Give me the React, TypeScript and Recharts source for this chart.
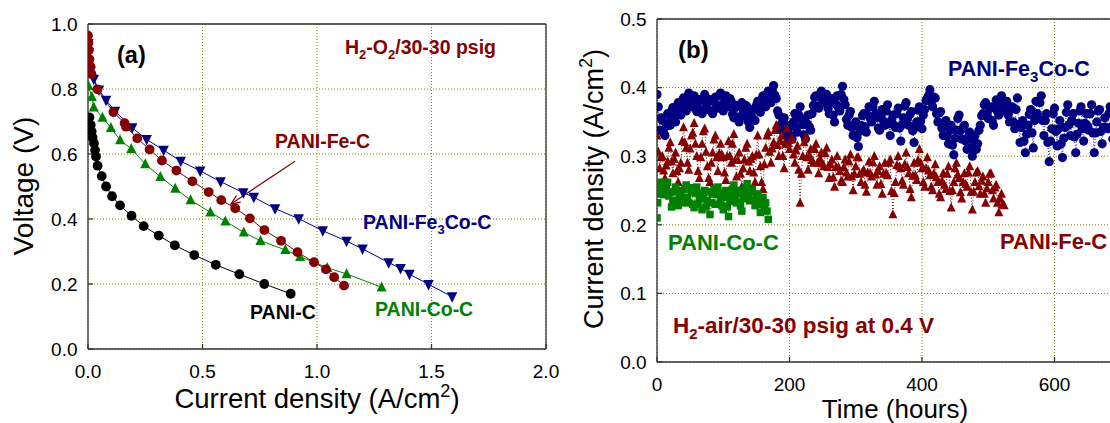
import { LineChart, Line, XAxis, YAxis, CartesianGrid, ReferenceLine } from "recharts";

const FONT = "'Liberation Sans', Arial, Helvetica, sans-serif";
const NAVY = "#000080";
const BLUE_LINE = "#0000b4";
const RED = "#850000";
const GREEN = "#008000";
const GRID = "#808000";

// (a) axes
const currentTicks = [0, 0.5, 1, 1.5, 2];
const voltageTicks = [0, 0.2, 0.4, 0.6, 0.8, 1];
// (b) axes
const hourTicks = [0, 200, 400, 600];
const densityTicks = [0, 0.1, 0.2, 0.3, 0.4, 0.5];

// (a) polarization curves: [current density A/cm2, voltage V]
const paniC = [
  [0.006, 0.713], [0.012, 0.689], [0.016, 0.669], [0.02, 0.651], [0.026, 0.633], [0.031, 0.612],
  [0.035, 0.592], [0.042, 0.564], [0.06, 0.532], [0.079, 0.5], [0.105, 0.47], [0.14, 0.442],
  [0.19, 0.41], [0.243, 0.378], [0.309, 0.349], [0.379, 0.319], [0.464, 0.289], [0.558, 0.259],
  [0.661, 0.23], [0.77, 0.2], [0.885, 0.17],
];
const paniFeC = [
  [0.0, 0.964], [0.002, 0.942], [0.004, 0.92], [0.006, 0.892], [0.01, 0.87], [0.015, 0.846],
  [0.041, 0.799], [0.111, 0.729], [0.16, 0.695], [0.166, 0.684], [0.215, 0.648], [0.269, 0.614],
  [0.323, 0.58], [0.386, 0.549], [0.456, 0.516], [0.527, 0.483], [0.582, 0.458], [0.643, 0.433],
  [0.707, 0.402], [0.77, 0.366], [0.843, 0.333], [0.915, 0.298], [0.987, 0.267], [1.039, 0.245],
  [1.075, 0.221], [1.118, 0.195],
];
const paniFe3CoC = [
  [0.001, 0.94], [0.003, 0.912], [0.006, 0.878], [0.012, 0.856], [0.025, 0.83], [0.048, 0.797],
  [0.079, 0.766], [0.118, 0.732], [0.193, 0.681], [0.256, 0.645], [0.33, 0.612], [0.405, 0.578],
  [0.49, 0.548], [0.579, 0.515], [0.678, 0.481], [0.724, 0.467], [0.817, 0.432], [0.92, 0.401],
  [1.025, 0.364], [1.129, 0.332], [1.199, 0.308], [1.313, 0.266], [1.365, 0.248], [1.404, 0.23],
  [1.487, 0.199], [1.59, 0.161],
];
const paniCoC = [
  [0.0, 0.812], [0.017, 0.776], [0.025, 0.744], [0.063, 0.712], [0.1, 0.681], [0.14, 0.643],
  [0.189, 0.616], [0.25, 0.569], [0.316, 0.53], [0.381, 0.494], [0.448, 0.458], [0.534, 0.421],
  [0.6, 0.393], [0.68, 0.359], [0.753, 0.333], [0.862, 0.305], [0.926, 0.284], [1.045, 0.25],
  [1.129, 0.231], [1.282, 0.19],
];

// (b) life test at 0.4 V: [hours, A/cm2]
const lifeFe3CoC = [
  [0, 0.39], [2, 0.372], [4, 0.338], [6, 0.356], [8, 0.352], [10, 0.334], [12, 0.33], [14, 0.344],
  [16, 0.362], [18, 0.349], [20, 0.345], [22, 0.366], [24, 0.371], [26, 0.357], [28, 0.35], [30, 0.372],
  [32, 0.378], [34, 0.364], [36, 0.36], [38, 0.379], [40, 0.385], [42, 0.37], [44, 0.366], [46, 0.386],
  [48, 0.392], [50, 0.377], [52, 0.372], [54, 0.385], [56, 0.388], [58, 0.371], [60, 0.365], [62, 0.379],
  [64, 0.383], [66, 0.367], [68, 0.362], [70, 0.383], [72, 0.39], [74, 0.374], [76, 0.368], [78, 0.383],
  [80, 0.38], [82, 0.366], [84, 0.362], [86, 0.381], [88, 0.386], [90, 0.373], [92, 0.37], [94, 0.388],
  [96, 0.392], [98, 0.375], [100, 0.366], [102, 0.384], [104, 0.388], [106, 0.374], [108, 0.372], [110, 0.384],
  [112, 0.38], [114, 0.361], [116, 0.356], [118, 0.371], [120, 0.374], [122, 0.357], [124, 0.35], [126, 0.372],
  [128, 0.378], [130, 0.363], [132, 0.358], [134, 0.374], [136, 0.372], [138, 0.35], [140, 0.342], [142, 0.362],
  [144, 0.368], [146, 0.354], [148, 0.352], [150, 0.374], [152, 0.38], [154, 0.367], [156, 0.364], [158, 0.383],
  [160, 0.388], [162, 0.376], [164, 0.372], [166, 0.39], [168, 0.395], [170, 0.381], [172, 0.378], [174, 0.397],
  [176, 0.403], [178, 0.389], [180, 0.384], [182, 0.366], [184, 0.36], [186, 0.345], [188, 0.338], [190, 0.352],
  [192, 0.356], [194, 0.33], [196, 0.318], [198, 0.337], [200, 0.345], [202, 0.329], [204, 0.325], [206, 0.35],
  [208, 0.362], [210, 0.342], [212, 0.335], [214, 0.36], [216, 0.372], [218, 0.354], [220, 0.346], [222, 0.331],
  [224, 0.325], [226, 0.348], [228, 0.36], [230, 0.343], [232, 0.338], [234, 0.362], [236, 0.374], [238, 0.386],
  [240, 0.388], [242, 0.373], [244, 0.37], [246, 0.39], [248, 0.395], [250, 0.381], [252, 0.378], [254, 0.389],
  [256, 0.39], [258, 0.37], [260, 0.362], [262, 0.379], [264, 0.384], [266, 0.36], [268, 0.35], [270, 0.376],
  [272, 0.388], [274, 0.371], [276, 0.366], [278, 0.39], [280, 0.402], [282, 0.383], [284, 0.375], [286, 0.354],
  [288, 0.345], [290, 0.36], [292, 0.365], [294, 0.342], [296, 0.33], [298, 0.346], [300, 0.35], [302, 0.327],
  [304, 0.314], [306, 0.336], [308, 0.345], [310, 0.359], [312, 0.362], [314, 0.343], [316, 0.335], [318, 0.36],
  [320, 0.372], [322, 0.355], [324, 0.35], [326, 0.372], [328, 0.38], [330, 0.362], [332, 0.356], [334, 0.341],
  [336, 0.338], [338, 0.358], [340, 0.368], [342, 0.351], [344, 0.345], [346, 0.366], [348, 0.375], [350, 0.347],
  [352, 0.33], [354, 0.352], [356, 0.36], [358, 0.345], [360, 0.342], [362, 0.362], [364, 0.37], [366, 0.341],
  [368, 0.322], [370, 0.346], [372, 0.356], [374, 0.373], [376, 0.378], [378, 0.355], [380, 0.345], [382, 0.361],
  [384, 0.365], [386, 0.337], [388, 0.32], [390, 0.342], [392, 0.35], [394, 0.367], [396, 0.372], [398, 0.351],
  [400, 0.34], [402, 0.36], [404, 0.368], [406, 0.381], [408, 0.384], [410, 0.389], [412, 0.397], [414, 0.379],
  [416, 0.372], [418, 0.386], [420, 0.385], [422, 0.362], [424, 0.35], [426, 0.363], [428, 0.365], [430, 0.341],
  [432, 0.33], [434, 0.348], [436, 0.352], [438, 0.329], [440, 0.318], [442, 0.338], [444, 0.345], [446, 0.316],
  [448, 0.302], [450, 0.326], [452, 0.338], [454, 0.355], [456, 0.36], [458, 0.337], [460, 0.325], [462, 0.341],
  [464, 0.345], [466, 0.322], [468, 0.31], [470, 0.328], [472, 0.335], [474, 0.312], [476, 0.3], [478, 0.322],
  [480, 0.33], [482, 0.31], [484, 0.318], [486, 0.338], [488, 0.345], [490, 0.359], [492, 0.362], [494, 0.375],
  [496, 0.378], [498, 0.361], [500, 0.355], [502, 0.369], [504, 0.372], [506, 0.352], [508, 0.345], [510, 0.37],
  [512, 0.382], [514, 0.365], [516, 0.36], [518, 0.38], [520, 0.388], [522, 0.371], [524, 0.366], [526, 0.377],
  [528, 0.38], [530, 0.36], [532, 0.35], [534, 0.368], [536, 0.372], [538, 0.35], [540, 0.34], [542, 0.368],
  [544, 0.385], [546, 0.346], [548, 0.32], [550, 0.342], [552, 0.352], [554, 0.322], [556, 0.305], [558, 0.332],
  [560, 0.345], [562, 0.361], [564, 0.368], [566, 0.334], [568, 0.312], [570, 0.352], [572, 0.38], [574, 0.362],
  [576, 0.355], [578, 0.378], [580, 0.388], [582, 0.352], [584, 0.33], [586, 0.352], [588, 0.362], [590, 0.32],
  [592, 0.292], [594, 0.322], [596, 0.34], [598, 0.362], [600, 0.37], [602, 0.336], [604, 0.315], [606, 0.34],
  [608, 0.352], [610, 0.318], [612, 0.298], [614, 0.326], [616, 0.342], [618, 0.364], [620, 0.375], [622, 0.346],
  [624, 0.33], [626, 0.352], [628, 0.362], [630, 0.328], [632, 0.305], [634, 0.332], [636, 0.348], [638, 0.366],
  [640, 0.372], [642, 0.34], [644, 0.322], [646, 0.348], [648, 0.362], [650, 0.344], [652, 0.338], [654, 0.362],
  [656, 0.375], [658, 0.334], [660, 0.305], [662, 0.334], [664, 0.35], [666, 0.366], [668, 0.368], [670, 0.336],
  [672, 0.318], [674, 0.342], [676, 0.356], [678, 0.342], [680, 0.34], [682, 0.362], [684, 0.372], [686, 0.342],
  [688, 0.325], [690, 0.348], [692, 0.36], [694, 0.346], [696, 0.345], [698, 0.364], [700, 0.37],
];
const lifeFeC = [
  [0, 0.33], [2, 0.306], [4, 0.282], [6, 0.298], [8, 0.3], [10, 0.279], [12, 0.268], [14, 0.286],
  [16, 0.292], [18, 0.312], [20, 0.32], [22, 0.292], [24, 0.275], [26, 0.296], [28, 0.305], [30, 0.278],
  [32, 0.262], [34, 0.282], [36, 0.29], [38, 0.322], [40, 0.342], [42, 0.32], [44, 0.312], [46, 0.29],
  [48, 0.28], [50, 0.311], [52, 0.33], [54, 0.334], [56, 0.348], [58, 0.318], [60, 0.3], [62, 0.278],
  [64, 0.268], [66, 0.298], [68, 0.318], [70, 0.336], [72, 0.34], [74, 0.306], [76, 0.285], [78, 0.268],
  [80, 0.262], [82, 0.29], [84, 0.305], [86, 0.324], [88, 0.33], [90, 0.298], [92, 0.278], [94, 0.304],
  [96, 0.318], [98, 0.302], [100, 0.298], [102, 0.276], [104, 0.265], [106, 0.3], [108, 0.322], [110, 0.3],
  [112, 0.29], [114, 0.318], [116, 0.332], [118, 0.294], [120, 0.27], [122, 0.294], [124, 0.305], [126, 0.274],
  [128, 0.255], [130, 0.282], [132, 0.295], [134, 0.312], [136, 0.318], [138, 0.292], [140, 0.278], [142, 0.296],
  [144, 0.3], [146, 0.276], [148, 0.262], [150, 0.302], [152, 0.33], [154, 0.302], [156, 0.285], [158, 0.262],
  [160, 0.252], [162, 0.288], [164, 0.312], [166, 0.33], [168, 0.335], [170, 0.306], [172, 0.29], [174, 0.311],
  [176, 0.32], [178, 0.338], [180, 0.345], [182, 0.316], [184, 0.3], [186, 0.322], [188, 0.33], [190, 0.3],
  [192, 0.282], [194, 0.318], [196, 0.34], [198, 0.319], [200, 0.31], [202, 0.324], [204, 0.325], [206, 0.302],
  [208, 0.29], [210, 0.308], [212, 0.315], [214, 0.28], [216, 0.232], [218, 0.274], [220, 0.3], [222, 0.32],
  [224, 0.328], [226, 0.298], [228, 0.28], [230, 0.301], [232, 0.31], [234, 0.294], [236, 0.29], [238, 0.31],
  [240, 0.318], [242, 0.29], [244, 0.275], [246, 0.296], [248, 0.305], [250, 0.289], [252, 0.285], [254, 0.304],
  [256, 0.312], [258, 0.284], [260, 0.268], [262, 0.288], [264, 0.295], [266, 0.269], [268, 0.255], [270, 0.284],
  [272, 0.3], [274, 0.284], [276, 0.278], [278, 0.264], [280, 0.262], [282, 0.284], [284, 0.295], [286, 0.276],
  [288, 0.27], [290, 0.292], [292, 0.302], [294, 0.27], [296, 0.25], [298, 0.274], [300, 0.285], [302, 0.298],
  [304, 0.298], [306, 0.274], [308, 0.262], [310, 0.277], [312, 0.28], [314, 0.258], [316, 0.248], [318, 0.276],
  [320, 0.292], [322, 0.275], [324, 0.27], [326, 0.291], [328, 0.3], [330, 0.273], [332, 0.258], [334, 0.278],
  [336, 0.285], [338, 0.259], [340, 0.245], [342, 0.274], [344, 0.29], [346, 0.275], [348, 0.272], [350, 0.29],
  [352, 0.295], [354, 0.249], [356, 0.215], [358, 0.246], [360, 0.262], [362, 0.287], [364, 0.3], [366, 0.285],
  [368, 0.282], [370, 0.264], [372, 0.258], [374, 0.288], [376, 0.305], [378, 0.284], [380, 0.275], [382, 0.252],
  [384, 0.24], [386, 0.271], [388, 0.29], [390, 0.272], [392, 0.265], [394, 0.294], [396, 0.31], [398, 0.29],
  [400, 0.282], [402, 0.262], [404, 0.255], [406, 0.282], [408, 0.298], [410, 0.279], [412, 0.272], [414, 0.255],
  [416, 0.25], [418, 0.275], [420, 0.288], [422, 0.269], [424, 0.262], [426, 0.245], [428, 0.24], [430, 0.264],
  [432, 0.275], [434, 0.258], [436, 0.252], [438, 0.274], [440, 0.285], [442, 0.249], [444, 0.225], [446, 0.25],
  [448, 0.262], [450, 0.282], [452, 0.29], [454, 0.273], [456, 0.268], [458, 0.247], [460, 0.238], [462, 0.262],
  [464, 0.275], [466, 0.259], [468, 0.255], [470, 0.276], [472, 0.285], [474, 0.248], [476, 0.222], [478, 0.248],
  [480, 0.262], [482, 0.276], [484, 0.278], [486, 0.256], [488, 0.245], [490, 0.264], [492, 0.27], [494, 0.245],
  [496, 0.232], [498, 0.253], [500, 0.262], [502, 0.274], [504, 0.275], [506, 0.25], [508, 0.238], [510, 0.254],
  [512, 0.258], [514, 0.232], [516, 0.218], [518, 0.238], [520, 0.245], [522, 0.23], [524, 0.228],
];
const lifeCoC = [
  [0, 0.21], [1, 0.232], [2, 0.255], [4, 0.245], [6, 0.262], [8, 0.26], [10, 0.244], [12, 0.252],
  [14, 0.258], [16, 0.262], [18, 0.242], [20, 0.248], [22, 0.226], [24, 0.235], [26, 0.248], [28, 0.255],
  [30, 0.236], [32, 0.228], [34, 0.243], [36, 0.25], [38, 0.232], [40, 0.24], [42, 0.252], [44, 0.258],
  [46, 0.24], [48, 0.232], [50, 0.254], [52, 0.248], [54, 0.23], [56, 0.225], [58, 0.246], [60, 0.255],
  [62, 0.23], [64, 0.238], [66, 0.246], [68, 0.222], [70, 0.238], [72, 0.25], [74, 0.226], [76, 0.235],
  [78, 0.248], [80, 0.215], [82, 0.232], [84, 0.245], [86, 0.252], [88, 0.23], [90, 0.244], [92, 0.255],
  [94, 0.246], [96, 0.238], [98, 0.228], [100, 0.222], [102, 0.24], [104, 0.25], [106, 0.226], [108, 0.212],
  [110, 0.234], [112, 0.242], [114, 0.252], [116, 0.258], [118, 0.24], [120, 0.232], [122, 0.246], [124, 0.25],
  [126, 0.228], [128, 0.22], [130, 0.238], [132, 0.245], [134, 0.254], [136, 0.26], [138, 0.242], [140, 0.235],
  [142, 0.248], [144, 0.252], [146, 0.236], [148, 0.228], [150, 0.24], [152, 0.245], [154, 0.23], [156, 0.218],
  [158, 0.232], [160, 0.24], [162, 0.226], [164, 0.232], [166, 0.22], [168, 0.208],
];

// Fe-C label arrow, in data units (from label to curve)
const feArrow = [
  [0.904, 0.578],
  [0.624, 0.446],
];

const pts = (arr: number[][]) => arr.map(([x, y]) => ({ x, y }));

const circleDot = (r: number, fill: string) => (p: any) =>
  p.cx == null ? <g key={p.index} /> : <circle key={p.index} cx={p.cx} cy={p.cy} r={r} fill={fill} />;

const triUpDot = (s: number, fill: string) => (p: any) => {
  if (p.cx == null) return <g key={p.index} />;
  const { cx, cy } = p;
  return (
    <polygon
      key={p.index}
      points={`${cx},${cy - s * 0.58} ${cx - s / 2},${cy + s * 0.42} ${cx + s / 2},${cy + s * 0.42}`}
      fill={fill}
    />
  );
};

const triDownDot = (s: number, fill: string) => (p: any) => {
  if (p.cx == null) return <g key={p.index} />;
  const { cx, cy } = p;
  return (
    <polygon
      key={p.index}
      points={`${cx},${cy + s * 0.58} ${cx - s / 2},${cy - s * 0.42} ${cx + s / 2},${cy - s * 0.42}`}
      fill={fill}
    />
  );
};

const squareDot = (s: number, fill: string) => (p: any) =>
  p.cx == null ? (
    <g key={p.index} />
  ) : (
    <rect key={p.index} x={p.cx - s / 2} y={p.cy - s / 2} width={s} height={s} fill={fill} />
  );

const arrowShape = (p: any) => {
  const { x1, y1, x2, y2 } = p;
  const a = Math.atan2(y2 - y1, x2 - x1);
  const len = 10;
  const h1x = x2 - len * Math.cos(a - 0.4);
  const h1y = y2 - len * Math.sin(a - 0.4);
  const h2x = x2 - len * Math.cos(a + 0.4);
  const h2y = y2 - len * Math.sin(a + 0.4);
  return (
    <g>
      <line x1={x1} y1={y1} x2={x2} y2={y2} stroke={RED} strokeWidth={1.2} />
      <polyline points={`${h1x},${h1y} ${x2},${y2} ${h2x},${h2y}`} fill="none" stroke={RED} strokeWidth={1.2} />
    </g>
  );
};

const tickStyle = { fill: "#000", fontSize: 19, fontFamily: FONT };
const axisLine = { stroke: "#333", strokeWidth: 1.3 };
const fmt1 = (v: number) => v.toFixed(1);

function PolarizationChart() {
  return (
    <LineChart width={560} height={423} margin={{ top: 23, right: 13, bottom: 0, left: 0 }}>
      <CartesianGrid stroke={GRID} strokeDasharray="1 2" />
      <XAxis
        type="number"
        dataKey="x"
        domain={[0, 2]}
        ticks={currentTicks}
        tickFormatter={fmt1}
        height={74}
        tickSize={-5}
        tickMargin={21}
        tick={tickStyle}
        axisLine={axisLine}
        tickLine={axisLine}
        allowDataOverflow
      />
      <XAxis
        xAxisId="top"
        orientation="top"
        type="number"
        domain={[0, 2]}
        ticks={currentTicks}
        height={1}
        tick={false}
        tickSize={-5}
        axisLine={axisLine}
        tickLine={axisLine}
        allowDataOverflow
      />
      <YAxis
        type="number"
        domain={[0, 1]}
        ticks={voltageTicks}
        tickFormatter={fmt1}
        width={88}
        tickSize={-5}
        tickMargin={15.5}
        tick={tickStyle}
        axisLine={axisLine}
        tickLine={axisLine}
        allowDataOverflow
      />
      <YAxis
        yAxisId="right"
        orientation="right"
        type="number"
        domain={[0, 1]}
        ticks={voltageTicks}
        width={1}
        tick={false}
        tickSize={-5}
        axisLine={axisLine}
        tickLine={axisLine}
        allowDataOverflow
      />
      <Line data={pts(paniC)} dataKey="y" stroke="#000" strokeWidth={1} dot={circleDot(4.9, "#000")} activeDot={false} isAnimationActive={false} />
      <Line data={pts(paniCoC)} dataKey="y" stroke={GREEN} strokeWidth={1} dot={triUpDot(10, GREEN)} activeDot={false} isAnimationActive={false} />
      <Line data={pts(paniFe3CoC)} dataKey="y" stroke={BLUE_LINE} strokeWidth={1} dot={triDownDot(10.5, NAVY)} activeDot={false} isAnimationActive={false} />
      <Line data={pts(paniFeC)} dataKey="y" stroke={RED} strokeWidth={1} dot={circleDot(4.9, RED)} activeDot={false} isAnimationActive={false} />
      <ReferenceLine
        segment={[
          { x: feArrow[0][0], y: feArrow[0][1] },
          { x: feArrow[1][0], y: feArrow[1][1] },
        ]}
        shape={arrowShape}
      />
    </LineChart>
  );
}

function LifeChart() {
  return (
    <LineChart width={637} height={423} margin={{ top: 18, right: 10, bottom: 0, left: 0 }}>
      <CartesianGrid stroke={GRID} strokeDasharray="1 2" />
      <XAxis
        type="number"
        dataKey="x"
        domain={[0, 800]}
        ticks={hourTicks}
        height={61}
        tickSize={-5}
        tickMargin={21}
        tick={tickStyle}
        axisLine={axisLine}
        tickLine={axisLine}
        allowDataOverflow
      />
      <XAxis
        xAxisId="top"
        orientation="top"
        type="number"
        domain={[0, 800]}
        ticks={hourTicks}
        height={1}
        tick={false}
        tickSize={-5}
        axisLine={axisLine}
        tickLine={axisLine}
        allowDataOverflow
      />
      <YAxis
        type="number"
        domain={[0, 0.5]}
        ticks={densityTicks}
        tickFormatter={fmt1}
        width={97}
        tickSize={-5}
        tickMargin={15.3}
        tick={tickStyle}
        axisLine={axisLine}
        tickLine={axisLine}
        allowDataOverflow
      />
      <Line data={pts(lifeFe3CoC)} dataKey="y" stroke="#0000ff" strokeWidth={1} strokeDasharray="1 2" dot={circleDot(4.6, NAVY)} activeDot={false} isAnimationActive={false} />
      <Line data={pts(lifeFeC)} dataKey="y" stroke={RED} strokeWidth={1} strokeDasharray="1 2" dot={triUpDot(9, RED)} activeDot={false} isAnimationActive={false} />
      <Line data={pts(lifeCoC)} dataKey="y" stroke={GREEN} strokeWidth={1} strokeDasharray="1 2" dot={squareDot(7.5, GREEN)} activeDot={false} isAnimationActive={false} />
    </LineChart>
  );
}

function Labels() {
  const b = { fontWeight: "bold" as const };
  return (
    <svg
      width={1110}
      height={423}
      style={{ position: "absolute", left: 0, top: 0, pointerEvents: "none" }}
      fontFamily={FONT}
    >
      {/* panel (a) */}
      <text x={117} y={63} fontSize={23.5} {...b}>(a)</text>
      <text x={345} y={54} fontSize={19.5} fill={RED} {...b}>
        H<tspan dy={5} fontSize={13}>2</tspan>
        <tspan dy={-5}>-O</tspan>
        <tspan dy={5} fontSize={13}>2</tspan>
        <tspan dy={-5}>/30-30 psig</tspan>
      </text>
      <text x={275} y={148} fontSize={19.5} fill={RED} {...b}>PANI-Fe-C</text>
      <text x={363} y={229} fontSize={19.5} fill={NAVY} {...b}>
        PANI-Fe<tspan dy={5} fontSize={13}>3</tspan>
        <tspan dy={-5}>Co-C</tspan>
      </text>
      <text x={375} y={316} fontSize={19.5} fill={GREEN} {...b}>PANI-Co-C</text>
      <text x={250} y={319} fontSize={19.5} fill="#000" {...b}>PANI-C</text>
      <text x={317} y={408} fontSize={27.5} textAnchor="middle">
        Current density (A/cm<tspan dy={-11} fontSize={18}>2</tspan>
        <tspan dy={11}>)</tspan>
      </text>
      <text transform="translate(33,186) rotate(-90)" fontSize={28} textAnchor="middle">
        Voltage (V)
      </text>

      {/* panel (b) */}
      <text x={678} y={58} fontSize={24} {...b}>(b)</text>
      <text x={948} y={76} fontSize={21.5} fill={NAVY} {...b}>
        PANI-Fe<tspan dy={6} fontSize={15}>3</tspan>
        <tspan dy={-6}>Co-C</tspan>
      </text>
      <text x={668} y={250} fontSize={22} fill={GREEN} {...b}>PANI-Co-C</text>
      <text x={1000} y={249} fontSize={22} fill={RED} {...b}>PANI-Fe-C</text>
      <text x={673} y={332.5} fontSize={22.5} fill={RED} {...b}>
        H<tspan dy={6} fontSize={15}>2</tspan>
        <tspan dy={-6}>-air/30-30 psig at 0.4 V</tspan>
      </text>
      <text x={895} y={418} fontSize={26} textAnchor="middle">Time (hours)</text>
      <text transform="translate(603,189) rotate(-90)" fontSize={27} textAnchor="middle">
        Current density (A/cm<tspan dy={-11} fontSize={18}>2</tspan>
        <tspan dy={11}>)</tspan>
      </text>
    </svg>
  );
}

export default function App() {
  return (
    <div
      style={{
        position: "absolute",
        left: 0,
        top: 0,
        width: 1110,
        height: 423,
        overflow: "hidden",
        background: "#fff",
        fontFamily: FONT,
      }}
    >
      <div style={{ position: "absolute", left: 0, top: 0 }}>
        <PolarizationChart />
      </div>
      <div style={{ position: "absolute", left: 560, top: 0 }}>
        <LifeChart />
      </div>
      <Labels />
    </div>
  );
}
